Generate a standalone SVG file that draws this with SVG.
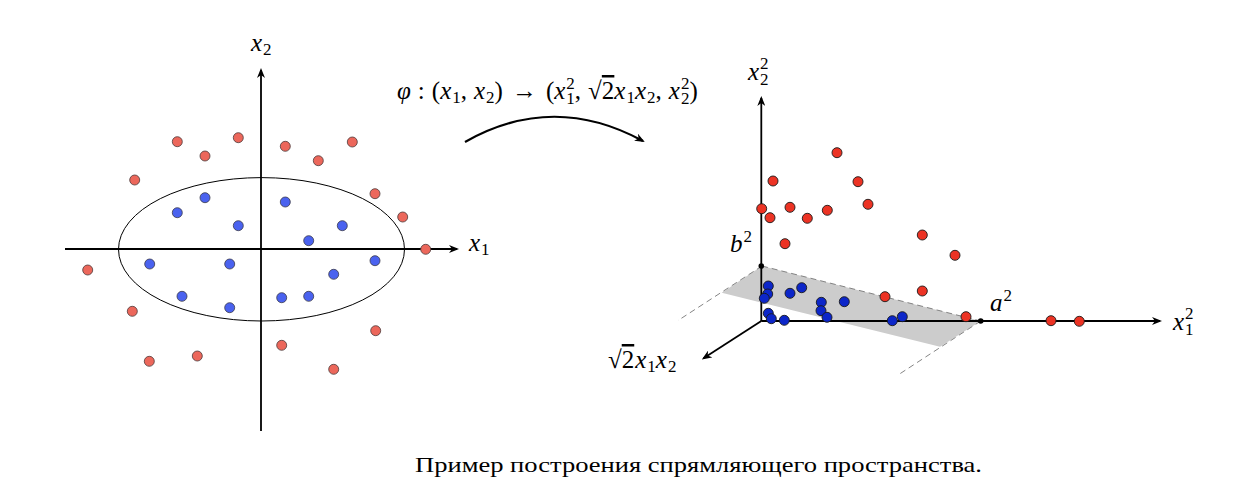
<svg xmlns="http://www.w3.org/2000/svg" width="1240" height="502" viewBox="0 0 1240 502">
<style>
.ax{stroke:#000;stroke-width:1.8;fill:none}
.m{font-family:"Liberation Serif","DejaVu Serif",serif;font-size:25px;fill:#000}
.i{font-style:italic}
.s{font-size:17px}
.rl{fill:#ec675b;stroke:#4a3a3a;stroke-width:0.8}
.bl{fill:#4a62ef;stroke:#3a3a4a;stroke-width:0.8}
.rr{fill:#ec3324;stroke:#1a1a1a;stroke-width:0.9}
.br{fill:#0c26c9;stroke:#1a1a1a;stroke-width:0.9}
.dash{stroke:#777;stroke-width:0.9;stroke-dasharray:6 4;fill:none}
</style>
<defs>
<marker id="arr" viewBox="0 0 10 8" refX="8" refY="4" markerWidth="10" markerHeight="8" markerUnits="userSpaceOnUse" orient="auto">
<path d="M0,0 L10,4 L0,8 L3,4 Z" fill="#000"/>
</marker>
</defs>

<g id="left-plot">
<ellipse cx="261.5" cy="249.3" rx="143" ry="71.7" fill="none" stroke="#000" stroke-width="1"/>
<line class="ax" x1="65" y1="249" x2="457" y2="249" marker-end="url(#arr)"/>
<line class="ax" x1="261" y1="431" x2="261" y2="70" marker-end="url(#arr)"/>
<text class="m" x="251" y="51"><tspan class="i">x</tspan><tspan class="s" dx="1" dy="4">2</tspan></text>
<text class="m" x="469" y="251"><tspan class="i">x</tspan><tspan class="s" dx="1" dy="4">1</tspan></text>
<g id="left-red">
<circle class="rl" cx="177.3" cy="141.7" r="5"/>
<circle class="rl" cx="238.3" cy="137.7" r="5"/>
<circle class="rl" cx="285.3" cy="146.3" r="5"/>
<circle class="rl" cx="352.3" cy="142" r="5"/>
<circle class="rl" cx="205" cy="156" r="5"/>
<circle class="rl" cx="318.3" cy="160.7" r="5"/>
<circle class="rl" cx="134.7" cy="180" r="5"/>
<circle class="rl" cx="375" cy="193.7" r="5"/>
<circle class="rl" cx="402.7" cy="217" r="5"/>
<circle class="rl" cx="425.7" cy="249.3" r="5"/>
<circle class="rl" cx="87.7" cy="270" r="5"/>
<circle class="rl" cx="132.3" cy="311.3" r="5"/>
<circle class="rl" cx="375.7" cy="330.7" r="5"/>
<circle class="rl" cx="281.7" cy="345.3" r="5"/>
<circle class="rl" cx="149.3" cy="361.3" r="5"/>
<circle class="rl" cx="197.3" cy="356" r="5"/>
<circle class="rl" cx="333.7" cy="369.3" r="5"/>
</g>
<g id="left-blue">
<circle class="bl" cx="205" cy="197.7" r="5"/>
<circle class="bl" cx="177.3" cy="212.7" r="5"/>
<circle class="bl" cx="238.3" cy="225.7" r="5"/>
<circle class="bl" cx="285.3" cy="202" r="5"/>
<circle class="bl" cx="342.3" cy="225.7" r="5"/>
<circle class="bl" cx="308.7" cy="240.7" r="5"/>
<circle class="bl" cx="149.7" cy="264" r="5"/>
<circle class="bl" cx="229.7" cy="264" r="5"/>
<circle class="bl" cx="375" cy="260.7" r="5"/>
<circle class="bl" cx="333.7" cy="274.3" r="5"/>
<circle class="bl" cx="182" cy="296.3" r="5"/>
<circle class="bl" cx="229.7" cy="307.7" r="5"/>
<circle class="bl" cx="281.7" cy="297.7" r="5"/>
<circle class="bl" cx="308.7" cy="296.3" r="5"/>
</g>
</g>

<g id="mapping">
<text class="m" x="397" y="99"><tspan class="i">φ</tspan><tspan dx="7">:</tspan><tspan dx="7">(</tspan><tspan class="i">x</tspan><tspan class="s" dx="1" dy="4">1</tspan><tspan dy="-4">,</tspan><tspan class="i" dx="7">x</tspan><tspan class="s" dx="1" dy="4">2</tspan><tspan dy="-4">)</tspan><tspan dx="9">→</tspan><tspan dx="9">(</tspan><tspan class="i">x</tspan><tspan class="s" dx="1" dy="-10">2</tspan><tspan class="s" dx="-8.5" dy="15">1</tspan><tspan dy="-5">,</tspan><tspan dx="7">√</tspan><tspan style="text-decoration:overline">2</tspan><tspan class="i">x</tspan><tspan class="s" dx="1" dy="4">1</tspan><tspan class="i" dy="-4">x</tspan><tspan class="s" dx="1" dy="4">2</tspan><tspan dy="-4">,</tspan><tspan class="i" dx="7">x</tspan><tspan class="s" dx="1" dy="-10">2</tspan><tspan class="s" dx="-8.5" dy="15">2</tspan><tspan dy="-5">)</tspan></text>
</g>

<g id="connectors">
<path d="M465,142 Q553,92 643,141" fill="none" stroke="#000" stroke-width="2.2" marker-end="url(#arr)"/>
</g>

<g id="right-plot">
<polygon points="721.7,292.7 762,266 980.7,321 940,346.7" fill="#cccccc"/>
<line class="dash" x1="762" y1="266" x2="678" y2="320.5"/>
<line class="dash" x1="762" y1="266" x2="980.7" y2="321"/>
<line class="dash" x1="980.7" y1="321" x2="898" y2="375"/>
<line class="ax" x1="761.3" y1="321" x2="761.3" y2="98" marker-end="url(#arr)"/>
<line class="ax" x1="761.3" y1="321" x2="1160" y2="321" marker-end="url(#arr)"/>
<line class="ax" x1="761.3" y1="321" x2="703.5" y2="358.3" marker-end="url(#arr)"/>
<circle cx="761.3" cy="266" r="2.8" fill="#000"/>
<circle cx="980.7" cy="321" r="2.8" fill="#000"/>
<text class="m" x="748" y="80"><tspan class="i">x</tspan><tspan class="s" dx="1" dy="-11">2</tspan><tspan class="s" dx="-8.5" dy="16">2</tspan></text>
<text class="m" x="1173" y="330"><tspan class="i">x</tspan><tspan class="s" dx="1" dy="-11">2</tspan><tspan class="s" dx="-8.5" dy="16">1</tspan></text>
<text class="m" x="730" y="252"><tspan class="i">b</tspan><tspan class="s" dx="1" dy="-10">2</tspan></text>
<text class="m" x="990" y="311"><tspan class="i">a</tspan><tspan class="s" dx="1" dy="-10">2</tspan></text>
<text class="m" x="608" y="368">√<tspan style="text-decoration:overline">2</tspan><tspan class="i" dx="1">x</tspan><tspan class="s" dx="1" dy="4">1</tspan><tspan class="i" dy="-4">x</tspan><tspan class="s" dx="1" dy="4">2</tspan></text>
<g id="right-red">
<circle class="rr" cx="837" cy="152.7" r="5"/>
<circle class="rr" cx="773" cy="181" r="5"/>
<circle class="rr" cx="858" cy="181.7" r="5"/>
<circle class="rr" cx="868" cy="204.3" r="5"/>
<circle class="rr" cx="761.7" cy="208.7" r="5"/>
<circle class="rr" cx="770" cy="217.7" r="5"/>
<circle class="rr" cx="790" cy="207.3" r="5"/>
<circle class="rr" cx="807.3" cy="218.3" r="5"/>
<circle class="rr" cx="827.3" cy="210.3" r="5"/>
<circle class="rr" cx="785" cy="243.7" r="5"/>
<circle class="rr" cx="885" cy="296.7" r="5"/>
<circle class="rr" cx="922.3" cy="235" r="5"/>
<circle class="rr" cx="955" cy="255.3" r="5"/>
<circle class="rr" cx="922.3" cy="291" r="5"/>
<circle class="rr" cx="966" cy="316.7" r="5"/>
<circle class="rr" cx="1051" cy="320.7" r="5"/>
<circle class="rr" cx="1079.3" cy="321.3" r="5"/>
</g>
<g id="right-blue">
<circle class="br" cx="768.3" cy="286" r="5"/>
<circle class="br" cx="767.7" cy="294" r="5"/>
<circle class="br" cx="764.3" cy="298.3" r="5"/>
<circle class="br" cx="790" cy="293.3" r="5"/>
<circle class="br" cx="801.7" cy="287.7" r="5"/>
<circle class="br" cx="821.3" cy="302.3" r="5"/>
<circle class="br" cx="821" cy="310.7" r="5"/>
<circle class="br" cx="827" cy="317.3" r="5"/>
<circle class="br" cx="844.3" cy="301.7" r="5"/>
<circle class="br" cx="768.3" cy="313.3" r="5"/>
<circle class="br" cx="771.3" cy="318.7" r="5"/>
<circle class="br" cx="784.3" cy="320.3" r="5"/>
<circle class="br" cx="892.3" cy="320.7" r="5"/>
<circle class="br" cx="902.3" cy="316.7" r="5"/>
</g>
</g>

<g id="caption">
<text class="m" x="415" y="472" style="font-size:21px" textLength="567" lengthAdjust="spacingAndGlyphs">Пример построения спрямляющего пространства.</text>
</g>
</svg>
